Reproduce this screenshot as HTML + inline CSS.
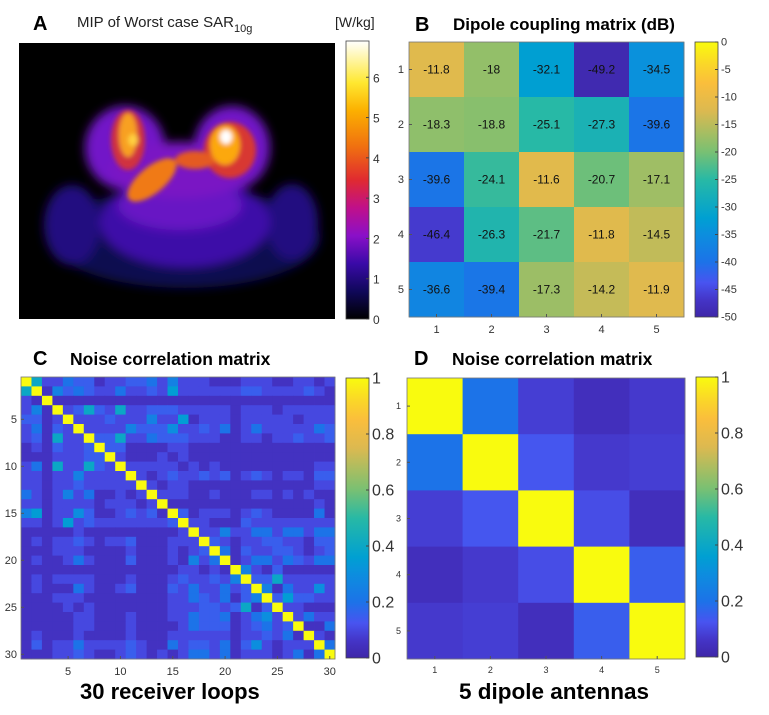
<!DOCTYPE html>
<html><head><meta charset="utf-8">
<style>
body{margin:0;background:#fff;width:769px;height:715px;overflow:hidden;font-family:"Liberation Sans",sans-serif}
svg{display:block}
</style></head>
<body>
<svg id="fig" width="769" height="715" xmlns="http://www.w3.org/2000/svg">
<defs>
<filter id="blur6" x="-30%" y="-30%" width="160%" height="160%"><feGaussianBlur stdDeviation="5"/></filter>
<filter id="blur3" x="-30%" y="-30%" width="160%" height="160%"><feGaussianBlur stdDeviation="2.5"/></filter>
<linearGradient id="hotcb" x1="0" y1="1" x2="0" y2="0">
<stop offset="0" stop-color="#000"/><stop offset="0.1" stop-color="#10085a"/><stop offset="0.2" stop-color="#3a0aa8"/>
<stop offset="0.3" stop-color="#8a10c8"/><stop offset="0.4" stop-color="#c0108a"/><stop offset="0.5" stop-color="#e02a30"/>
<stop offset="0.62" stop-color="#f07010"/><stop offset="0.75" stop-color="#fcb000"/><stop offset="0.85" stop-color="#ffe830"/><stop offset="1" stop-color="#ffffff"/>
</linearGradient>
<clipPath id="clipA"><rect x="19" y="43" width="316" height="276"/></clipPath>
</defs>

<g>
<text x="33" y="30" font-size="20" font-weight="bold">A</text>
<text x="77" y="27" font-size="15" fill="#222">MIP of Worst case SAR<tspan font-size="11" dy="5">10g</tspan></text>
<text x="335" y="27" font-size="14" fill="#222">[W/kg]</text>
<rect x="19" y="43" width="316" height="276" fill="#000"/>
<g clip-path="url(#clipA)">
<g filter="url(#blur6)">
<ellipse cx="185" cy="238" rx="135" ry="50" fill="#100850"/>
<ellipse cx="72" cy="225" rx="28" ry="40" fill="#240c80"/>
<ellipse cx="292" cy="222" rx="26" ry="38" fill="#240c80"/>
<ellipse cx="185" cy="222" rx="85" ry="45" fill="#3c10a8"/>
<ellipse cx="180" cy="205" rx="62" ry="25" fill="#6814c4"/>
<ellipse cx="125" cy="148" rx="40" ry="42" fill="#7216c8"/>
<ellipse cx="232" cy="148" rx="38" ry="42" fill="#7216c8"/>
<ellipse cx="180" cy="170" rx="70" ry="28" fill="#7a16c4"/>
</g>
<g filter="url(#blur3)">
<ellipse cx="128" cy="140" rx="17" ry="30" fill="#d03040"/>
<ellipse cx="230" cy="150" rx="26" ry="28" fill="#d83830"/>
<ellipse cx="152" cy="180" rx="30" ry="13" transform="rotate(-40 152 180)" fill="#f07a18"/>
<ellipse cx="195" cy="160" rx="20" ry="9" fill="#e45a20"/>
<ellipse cx="128" cy="135" rx="9" ry="22" fill="#f8a020"/>
<ellipse cx="225" cy="145" rx="15" ry="20" fill="#fca810"/>
<ellipse cx="226" cy="137" rx="6" ry="7" fill="#ffffff"/>
<ellipse cx="133" cy="140" rx="5" ry="6" fill="#ffd040"/>
</g>
</g>
<rect x="346" y="41" width="23" height="278" fill="url(#hotcb)" stroke="#444" stroke-width="0.8"/>
<g id="cbA" font-size="12" fill="#333"></g>
</g>

<g>
<text x="415" y="31" font-size="20" font-weight="bold">B</text>
<text x="453" y="30" font-size="17" font-weight="bold">Dipole coupling matrix (dB)</text>
<g id="matB"></g>
</g>

<g>
<text x="33" y="365" font-size="20" font-weight="bold">C</text>
<text x="70" y="365" font-size="17.5" font-weight="bold">Noise correlation matrix</text>
<g id="matC"></g>
<text x="80" y="699" font-size="22" font-weight="bold">30 receiver loops</text>
</g>

<g>
<text x="414" y="365" font-size="20" font-weight="bold">D</text>
<text x="452" y="365" font-size="17.5" font-weight="bold">Noise correlation matrix</text>
<g id="matD"></g>
<text x="459" y="699" font-size="22.5" font-weight="bold">5 dipole antennas</text>
</g>
</svg>
<script>
const sarTicks=[0,1,2,3,4,5,6];
const sarMax=6.9;
const couplingDb=[
[-11.8,-18,-32.1,-49.2,-34.5],
[-18.3,-18.8,-25.1,-27.3,-39.6],
[-39.6,-24.1,-11.6,-20.7,-17.1],
[-46.4,-26.3,-21.7,-11.8,-14.5],
[-36.6,-39.4,-17.3,-14.2,-11.9]];
const dbTicks=[0,-5,-10,-15,-20,-25,-30,-35,-40,-45,-50];
const dipoleCorr=[
[1,0.2,0.08,0.04,0.07],
[0.2,1,0.13,0.07,0.08],
[0.08,0.13,1,0.11,0.04],
[0.04,0.07,0.11,1,0.15],
[0.07,0.08,0.04,0.15,1]];
const corrTicks=[0,0.2,0.4,0.6,0.8,1];
// loop noise correlation; each char = value*20 in base36 ('k' = 1.0), 6 groups of 5
const loopCorrRows=[
"k8224 33122 33425 22211 12221 12212",
"8k153 43224 22327 22222 23322 22321",
"21k11 11111 11111 11111 11111 11111",
"251k2 38328 22333 22222 12221 22222",
"3312k 22232 22522 71222 12222 21222",
"24132 k2222 53336 22324 12422 22243",
"23182 2k338 22433 32221 12212 23223",
"12132 23k33 11112 21111 11111 11111",
"11122 233k2 11121 21111 11111 11111",
"24182 2832k 22222 12121 11111 11122",
"22122 52222 k2123 22323 12321 22133",
"22122 32222 2k212 21111 11111 11122",
"42125 24112 12k22 21121 11221 21211",
"22122 22122 212k1 11111 11111 11121",
"57122 63112 3231k 31222 12321 11141",
"22127 23222 22223 k2211 13222 22222",
"11111 21111 11111 2k225 22442 44244",
"12122 32122 31112 22k32 12233 22133",
"11122 21111 21112 123k4 13223 32123",
"12112 42111 31112 1524k 12442 43244",
"11111 11111 11111 22121 k5213 11111",
"12122 22111 21112 32232 5k338 22222",
"12111 42112 31113 24224 23k51 42262",
"11122 21111 11112 24324 135k3 73322",
"11112 12111 11112 22332 3813k 22111",
"11111 22111 21112 24334 12462 k2422",
"11111 22111 21111 24333 12342 3k114",
"12111 21111 21112 22222 12232 41k21",
"13122 42222 32114 23324 13621 222k4",
"11122 32112 32121 24424 12221 2414k"];
const loopTicks=[5,10,15,20,25,30];

const NS="http://www.w3.org/2000/svg";
function mk(tag,attrs,parent){const e=document.createElementNS(NS,tag);for(const k in attrs)e.setAttribute(k,attrs[k]);parent.appendChild(e);return e;}
const parulaStops=[[0,[62,38,168]],[0.06,[68,52,198]],[0.125,[72,84,240]],[0.2,[28,115,232]],[0.3,[12,142,222]],[0.36,[0,160,210]],[0.5,[40,185,165]],[0.6,[120,192,115]],[0.66,[160,190,100]],[0.75,[220,185,80]],[0.85,[250,190,60]],[0.92,[250,215,40]],[1,[249,251,14]]];
function parula(t){t=Math.max(0,Math.min(1,t));for(let i=1;i<parulaStops.length;i++){const[a,ca]=parulaStops[i-1],[b,cb]=parulaStops[i];if(t<=b){const f=(t-a)/(b-a);return "rgb("+ca.map((v,j)=>Math.round(v+(cb[j]-v)*f)).join(",")+")";}}return "rgb(249,251,14)";}
function addParulaGrad(id){const svg=document.getElementById('fig');const defs=svg.querySelector('defs');const g=mk('linearGradient',{id:id,x1:0,y1:1,x2:0,y2:0},defs);parulaStops.forEach(s=>mk('stop',{offset:s[0],'stop-color':parula(s[0])},g));}
addParulaGrad('parulacb');

(function(){const g=document.getElementById('cbA');const y0=319,y1=41;const ys=v=>y0-(v/sarMax)*(y0-y1);
sarTicks.forEach(v=>{const y=ys(v);
const t=mk('line',{x1:366,x2:369,y1:y,y2:y,stroke:'#444'},g);


const l=mk('text',{x:373,y:y+5},g);l.textContent=v;

});})();

function matrix(gid,data,colorFn,box,opts){
const g=document.getElementById(gid);const n=data.length;const cw=box.w/n,ch=box.h/n;
const xs=j=>box.x+j*cw, ys=i=>box.y+i*ch;
for(let i=0;i<n;i++)for(let j=0;j<n;j++){
const r=mk('rect',{x:xs(j),y:ys(i),width:cw+0.4,height:ch+0.4,fill:colorFn(data[i][j])},g);


if(opts.labels){const t=mk('text',{x:xs(j)+cw/2,y:ys(i)+ch/2+4,'text-anchor':'middle','font-size':12,fill:'#111'},g);t.textContent=data[i][j];

}}
const fr=mk('rect',{x:box.x,y:box.y,width:box.w,height:box.h,fill:'none',stroke:'#777','stroke-width':0.8},g);


opts.ticks.forEach(k=>{const cx=xs(k-1)+cw/2,cy=ys(k-1)+ch/2;
mk('line',{x1:cx,x2:cx,y1:box.y+box.h,y2:box.y+box.h-3,stroke:'#555'},g);
mk('line',{x1:box.x,x2:box.x+3,y1:cy,y2:cy,stroke:'#555'},g);
const xl=mk('text',{x:cx,y:box.y+box.h+opts.xoff,'text-anchor':'middle','font-size':opts.fs,fill:'#333'},g);xl.textContent=k;


const yl=mk('text',{x:box.x-opts.yoff,y:cy+opts.fs/3,'text-anchor':'end','font-size':opts.fs,fill:'#333'},g);yl.textContent=k;

});
}
function colorbar(gid,box,ticks,toT,fs,xoff){
const g=document.getElementById(gid);
const cb=mk('rect',{x:box.x,y:box.y,width:box.w,height:box.h,fill:'url(#parulacb)',stroke:'#444','stroke-width':0.8},g);


ticks.forEach(v=>{const y=box.y+box.h-toT(v)*box.h;
mk('line',{x1:box.x+box.w-3,x2:box.x+box.w,y1:y,y2:y,stroke:'#444'},g);
const l=mk('text',{x:box.x+box.w+xoff,y:y+fs/3,'font-size':fs,fill:'#333'},g);l.textContent=v;

});}

const dbT=v=>(v+50)/50;
matrix('matB',couplingDb,v=>parula(dbT(v)),{x:409,y:42,w:275,h:275},{labels:true,ticks:[1,2,3,4,5],fs:11,xoff:16,yoff:5});
colorbar('matB',{x:695,y:42,w:23,h:275},dbTicks,dbT,11,3);

const loopCorr=loopCorrRows.map(s=>s.replace(/ /g,'').split('').map(c=>parseInt(c,36)/20));
matrix('matC',loopCorr,v=>parula(v),{x:21,y:377,w:314,h:282},{labels:false,ticks:loopTicks,fs:11,xoff:16,yoff:4});
colorbar('matC',{x:346,y:378,w:23,h:280},corrTicks,v=>v,16,3);

matrix('matD',dipoleCorr,v=>parula(v),{x:407,y:378,w:278,h:281},{labels:false,ticks:[1,2,3,4,5],fs:9,xoff:14,yoff:6});
colorbar('matD',{x:696,y:377,w:22,h:280},corrTicks,v=>v,16,3);
</script>
</body></html>
